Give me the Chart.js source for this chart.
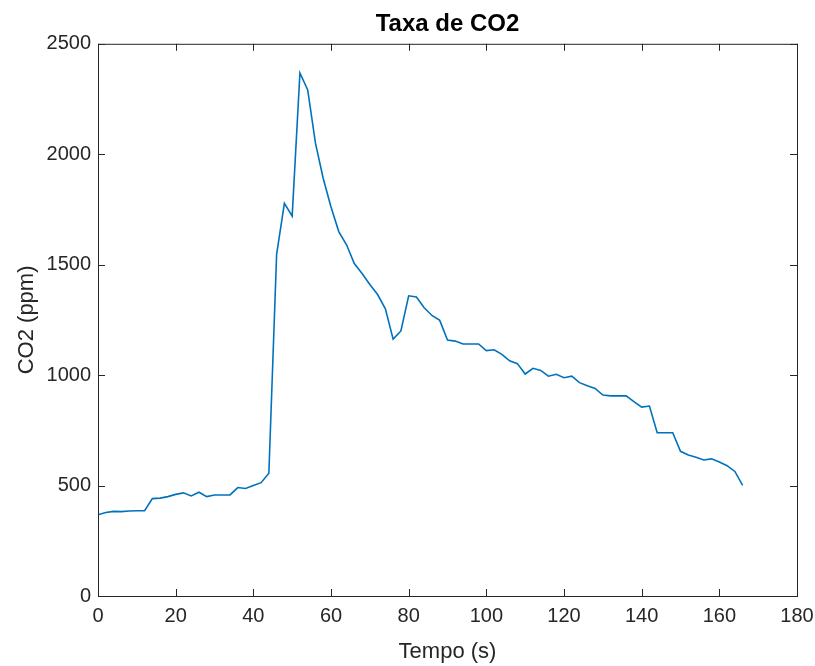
<!DOCTYPE html>
<html>
<head>
<meta charset="utf-8">
<script src="https://cdn.jsdelivr.net/npm/chart.js@4.4.0/dist/chart.umd.min.js"></script>
<style>
  html, body { margin: 0; padding: 0; background: #fff; }
</style>
</head>
<body>
<canvas id="myChart" width="815" height="666"></canvas>
<script>
// CO2 readings sampled every 2 s
const tempo = [0, 2, 4, 6, 8, 10, 12, 14, 16, 18, 20, 22, 24, 26, 28, 30, 32, 34, 36, 38,
    40, 42, 44, 46, 48, 50, 52, 54, 56, 58, 60, 62, 64, 66, 68, 70, 72, 74, 76, 78,
    80, 82, 84, 86, 88, 90, 92, 94, 96, 98, 100, 102, 104, 106, 108, 110, 112, 114, 116, 118,
    120, 122, 124, 126, 128, 130, 132, 134, 136, 138, 140, 142, 144, 146, 148, 150, 152, 154, 156, 158,
    160, 162, 164, 166];
const co2 = [368, 378, 383, 382, 385, 386, 386, 441, 443, 450, 460, 467, 453, 470, 450, 457, 457, 458, 491, 487,
    500, 513, 556, 1548, 1778, 1720, 2368, 2291, 2050, 1890, 1761, 1650, 1590, 1505, 1460, 1410, 1365, 1300, 1163, 1200,
    1359, 1354, 1305, 1270, 1248, 1159, 1154, 1141, 1141, 1141, 1111, 1115, 1094, 1065, 1052, 1005, 1031, 1021, 995, 1004,
    988, 995, 966, 952, 940, 910, 906, 906, 906, 880, 855, 860, 739, 739, 739, 655, 638, 628, 616, 621,
    607, 590, 564, 501];

const xTicks = [0, 20, 40, 60, 80, 100, 120, 140, 160, 180];
const yTicks = [0, 500, 1000, 1500, 2000, 2500];

const points = tempo.map((t, i) => ({ x: t, y: co2[i] }));
const axisColor = '#262626';
const fontFamily = "'Liberation Sans', Arial, sans-serif";

// MATLAB-like box with inward ticks
const boxTicks = {
    id: 'boxTicks',
    afterDraw(chart) {
        const ctx = chart.ctx;
        const a = chart.chartArea;
        const xs = chart.scales.x, ys = chart.scales.y;
        const len = 7;
        ctx.save();
        ctx.strokeStyle = axisColor;
        ctx.lineWidth = 1;
        ctx.strokeRect(a.left + 0.5, a.top + 0.5, a.right - a.left, a.bottom - a.top);
        ctx.beginPath();
        xTicks.forEach(v => {
            const px = Math.round(xs.getPixelForValue(v)) + 0.5;
            ctx.moveTo(px, a.bottom); ctx.lineTo(px, a.bottom - len);
            ctx.moveTo(px, a.top); ctx.lineTo(px, a.top + len);
        });
        yTicks.forEach(v => {
            const py = Math.round(ys.getPixelForValue(v)) + 0.5;
            ctx.moveTo(a.left, py); ctx.lineTo(a.left + len, py);
            ctx.moveTo(a.right, py); ctx.lineTo(a.right - len, py);
        });
        ctx.stroke();
        ctx.restore();
    }
};

const ctx = document.getElementById('myChart');

const myChart = new Chart(ctx, {
    type: 'line',
    data: {
        datasets: [{
            label: 'CO2',
            data: points,
            borderColor: '#0072BD',
            borderWidth: 1.6,
            pointRadius: 0,
            tension: 0,
            fill: false
        }]
    },
    options: {
        responsive: false,
        animation: false,
        layout: {
            padding: { left: 0, right: 18, top: 0, bottom: 0 }
        },
        scales: {
            x: {
                type: 'linear',
                min: 0,
                max: 180,
                afterFit: s => { s.height = 70; s.paddingLeft = 0; s.paddingRight = 0; },
                afterBuildTicks: s => { s.ticks = xTicks.map(v => ({ value: v })); },
                grid: { display: false, drawTicks: false },
                border: { display: false },
                ticks: {
                    padding: 8,
                    color: axisColor,
                    font: { family: fontFamily, size: 20 },
                    maxRotation: 0,
                    callback: v => String(v)
                },
                title: {
                    display: true,
                    text: 'Tempo (s)',
                    color: axisColor,
                    font: { family: fontFamily, size: 22 },
                    padding: { top: 0, bottom: 1 }
                }
            },
            y: {
                min: 0,
                max: 2500,
                afterFit: s => { s.width = 98; },
                afterBuildTicks: s => { s.ticks = yTicks.map(v => ({ value: v })); },
                grid: { display: false, drawTicks: false },
                border: { display: false },
                ticks: {
                    padding: 7,
                    color: axisColor,
                    font: { family: fontFamily, size: 20 },
                    callback: v => String(v)
                },
                title: {
                    display: true,
                    text: 'CO2 (ppm)',
                    color: axisColor,
                    font: { family: fontFamily, size: 22 },
                    padding: { top: 14, bottom: 0 }
                }
            }
        },
        plugins: {
            legend: { display: false },
            tooltip: { enabled: false },
            title: {
                display: true,
                fullSize: false,
                text: 'Taxa de CO2',
                color: '#000',
                font: { family: fontFamily, size: 24, weight: 'bold' },
                padding: { top: 10, bottom: 5 }
            }
        }
    },
    plugins: [boxTicks, {
        id: 'bg',
        beforeDraw(chart) {
            const c = chart.ctx;
            c.save();
            c.fillStyle = '#fff';
            c.fillRect(0, 0, chart.width, chart.height);
            c.restore();
        }
    }]
});
</script>
</body>
</html>
